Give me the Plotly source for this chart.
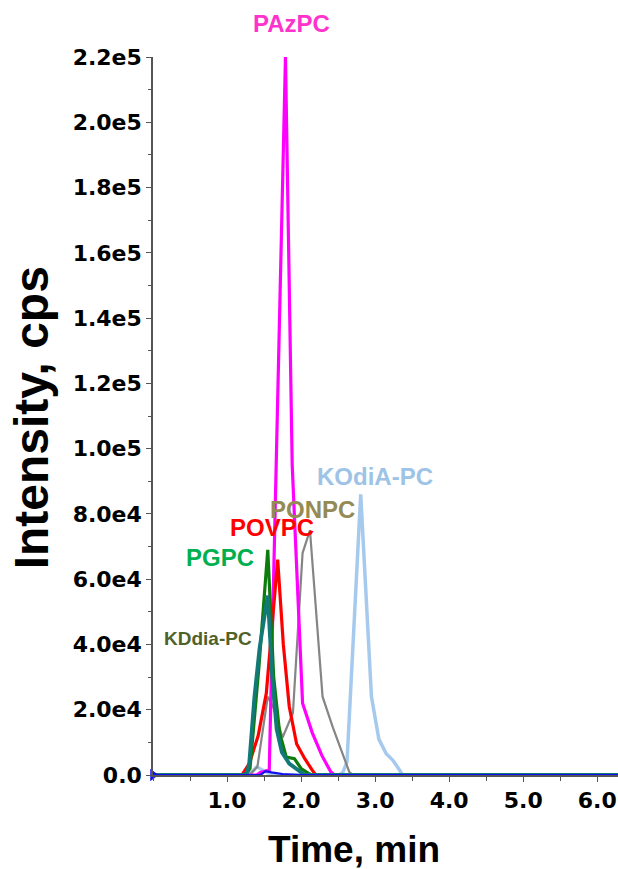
import plotly.graph_objects as go

# Extracted-ion chromatograms of oxidized phosphatidylcholines (time in min, intensity in cps)
pazpc_time = [0.00, 1.40, 1.45, 1.52, 1.57, 1.789, 1.88, 2.02, 2.15, 2.28, 2.40, 2.45, 6.30]
pazpc_int = [0, 0, 800, 1200, 1500, 220000, 95000, 22000, 13000, 6000, 1000, 0, 0]

povpc_time = [0.00, 1.20, 1.30, 1.42, 1.53, 1.684, 1.76, 1.84, 1.94, 2.05, 2.15, 2.20, 6.30]
povpc_int = [0, 0, 3500, 12000, 25000, 66000, 40000, 21000, 9500, 5000, 1500, 0, 0]

pgpc_time = [0.00, 1.25, 1.31, 1.43, 1.55, 1.63, 1.71, 1.80, 1.91, 2.00, 2.10, 2.15, 6.30]
pgpc_int = [0, 0, 2000, 33000, 69000, 30000, 13000, 5500, 5000, 2000, 500, 0, 0]

kddia_time = [0.00, 1.22, 1.27, 1.30, 1.37, 1.44, 1.55, 1.61, 1.67, 1.74, 1.84, 1.95, 2.05, 6.30]
kddia_int = [0, 0, 600, 3700, 24000, 39000, 55000, 30000, 14000, 7000, 3500, 1500, 0, 0]

ponpc_time = [0.00, 1.30, 1.41, 1.55, 1.62, 1.75, 1.89, 2.02, 2.12, 2.29, 2.43, 2.56, 2.65, 2.70, 6.30]
ponpc_int = [0, 0, 2500, 24000, 21000, 11500, 19000, 68000, 75000, 24000, 14500, 6500, 1000, 0, 0]

kodia_time = [0.00, 1.30, 1.40, 1.48, 1.60, 2.50, 2.56, 2.62, 2.805, 2.95, 3.05, 3.15, 3.24, 3.33, 3.37, 6.30]
kodia_int = [0, 0, 2500, 1500, 0, 0, 600, 4000, 86000, 24000, 11000, 6500, 4500, 1500, 0, 0]

blank_time = [0.00, 1.45, 1.52, 1.60, 1.75, 2.00, 6.30]
blank_int = [0, 0, 1200, 800, 300, 0, 0]

y_tick_vals = [0, 20000, 40000, 60000, 80000, 100000, 120000, 140000, 160000, 180000, 200000, 220000]
y_tick_text = ["0.0", "2.0e4", "4.0e4", "6.0e4", "8.0e4", "1.0e5", "1.2e5", "1.4e5",
               "1.6e5", "1.8e5", "2.0e5", "2.2e5"]
x_tick_vals = [1, 2, 3, 4, 5, 6]
x_tick_text = ["1.0", "2.0", "3.0", "4.0", "5.0", "6.0"]

traces = [
    ("KOdiA-PC", kodia_time, kodia_int, "#a6c9ee", 3.5),
    ("PONPC", ponpc_time, ponpc_int, "#858585", 2.2),
    ("PAzPC", pazpc_time, pazpc_int, "#ff00ff", 3.2),
    ("POVPC", povpc_time, povpc_int, "#ff0000", 3.2),
    ("PGPC", pgpc_time, pgpc_int, "#0c7c0c", 3.2),
    ("KDdia-PC", kddia_time, kddia_int, "#137878", 3.8),
    ("blank", blank_time, blank_int, "#1010ee", 2.2),
]

fig = go.Figure()
for name, t, y, color, width in traces:
    fig.add_trace(go.Scatter(x=t, y=y, mode="lines", name=name,
                             line=dict(color=color, width=width),
                             hoverinfo="skip", cliponaxis=False))

# start-of-axis marker
fig.add_trace(go.Scatter(x=[0], y=[0], mode="markers",
                         marker=dict(symbol="triangle-right", size=11, color="#1010ee"),
                         cliponaxis=False, hoverinfo="skip"))

label_font = "Liberation Sans, Arial, sans-serif"
# compound labels placed next to their peaks (data coordinates)
labels = [
    ("KOdiA-PC", 3.00, 91600, "#9dc3e6", 24),
    ("PONPC", 2.16, 81200, "#948a54", 24),
    ("POVPC", 1.61, 75700, "#ff0000", 24),
    ("PGPC", 0.905, 66500, "#00b050", 24),
    ("KDdia-PC", 0.743, 41700, "#4f6228", 19),
]
for text, x, y, color, size in labels:
    fig.add_annotation(x=x, y=y, text="<b>%s</b>" % text, showarrow=False,
                       xanchor="center", yanchor="middle",
                       font=dict(family=label_font, size=size, color=color))

# label above the tallest peak sits above the plotting area
fig.add_annotation(x=1.87, yref="paper", y=1.047, text="<b>PAzPC</b>", showarrow=False,
                   xanchor="center", yanchor="middle",
                   font=dict(family=label_font, size=24, color="#ff33cc"))

fig.add_annotation(xref="paper", yref="paper", x=-0.262, y=0.497,
                   text="<b>Intensity, cps</b>", textangle=-90, showarrow=False,
                   xanchor="center", yanchor="middle",
                   font=dict(family=label_font, size=48, color="#000000"))
fig.add_annotation(xref="paper", yref="paper", x=0.432, y=-0.104,
                   text="<b>Time, min</b>", showarrow=False,
                   xanchor="center", yanchor="middle",
                   font=dict(family=label_font, size=37, color="#000000"))

tick_font = dict(family="DejaVu Sans", size=22, color="#000000")

fig.update_layout(
    width=618, height=869,
    margin=dict(l=153, r=0, t=57, b=94),
    paper_bgcolor="#ffffff", plot_bgcolor="#ffffff",
    showlegend=False,
    xaxis=dict(range=[0, 6.28], tickvals=x_tick_vals,
               ticktext=["<b>%s</b>" % s for s in x_tick_text],
               ticks="outside", ticklen=5, tickcolor="#555555", tickwidth=1,
               showline=True, linecolor="#555555", linewidth=1.5,
               showgrid=False, zeroline=False,
               tickfont=tick_font,
               minor=dict(dtick=0.5, tick0=0, ticks="outside", ticklen=4,
                          tickcolor="#555555", showgrid=False)),
    yaxis=dict(range=[0, 220000], tickvals=y_tick_vals,
               ticktext=["<b>%s</b>" % s for s in y_tick_text],
               ticks="outside", ticklen=5, tickcolor="#555555", tickwidth=1,
               showline=True, linecolor="#555555", linewidth=1.5,
               showgrid=False, zeroline=False,
               tickfont=tick_font,
               minor=dict(dtick=10000, tick0=0, ticks="outside", ticklen=3,
                          tickcolor="#555555", showgrid=False)),
)

fig.write_html("out.html")
